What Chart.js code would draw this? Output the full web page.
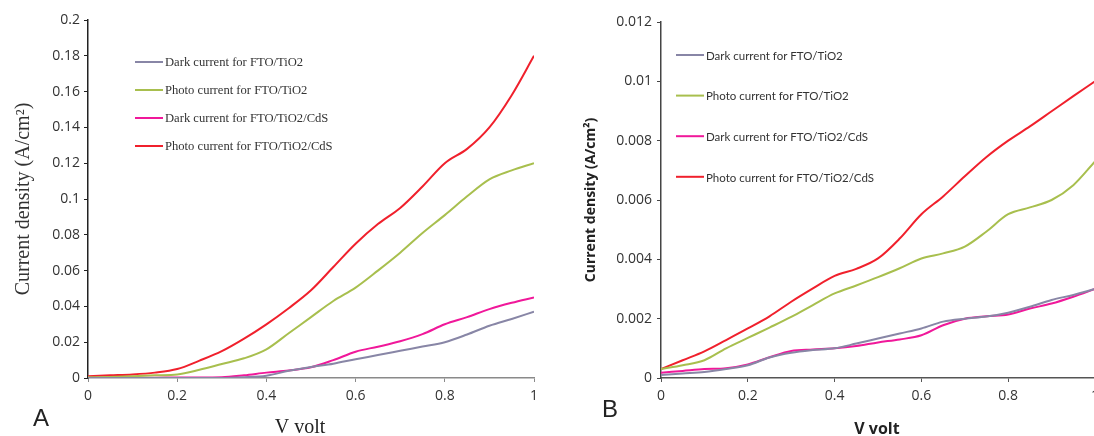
<!DOCTYPE html>
<html>
<head>
<meta charset="utf-8">
<script src="https://cdn.jsdelivr.net/npm/chart.js@4"></script>
<style>
  html, body { margin: 0; padding: 0; background: #fff; overflow: hidden; }
  body { width: 1094px; height: 436px; position: relative; }
  .panel { position: absolute; top: 0; width: 560px; height: 436px; }
  #panelA { left: 0; }
  #panelB { left: 560px; }
</style>
</head>
<body>
<div class="panel" id="panelA"><canvas id="chartA"></canvas></div>
<div class="panel" id="panelB"><canvas id="chartB"></canvas></div>
<script>
// series labels (same in both panels)
const seriesNames = [
    "Dark current for FTO/TiO2",
    "Photo current for FTO/TiO2",
    "Dark current for FTO/TiO2/CdS",
    "Photo current for FTO/TiO2/CdS"
];
const seriesColors = ["#8886a6", "#a8bf4e", "#f0189a", "#f0202c"];

// voltage (x) samples
const volts = [0, 0.05, 0.1, 0.15, 0.2, 0.25, 0.3, 0.35, 0.4, 0.45, 0.5,
               0.55, 0.6, 0.65, 0.7, 0.75, 0.8, 0.85, 0.9, 0.95, 1];

// panel A current densities (A/cm2)
const darkTiO2_A = [0, 0, 0, 0, 0, 0, 0, 0.0004, 0.0013, 0.004, 0.0062,
                    0.008, 0.0105, 0.0128, 0.0152, 0.0176, 0.020, 0.0243, 0.0292, 0.033, 0.037];
const photoTiO2_A = [0.0004, 0.0006, 0.001, 0.0015, 0.002, 0.0046, 0.0078, 0.011, 0.016, 0.025, 0.034,
                     0.043, 0.0505, 0.060, 0.070, 0.081, 0.091, 0.1015, 0.111, 0.116, 0.120];
const darkCdS_A = [0.0002, 0.0002, 0.0002, 0.0002, 0.0003, 0.0003, 0.0004, 0.0015, 0.003, 0.0042, 0.006,
                   0.010, 0.0147, 0.0175, 0.0205, 0.0245, 0.030, 0.034, 0.0385, 0.042, 0.045];
const photoCdS_A = [0.001, 0.0015, 0.002, 0.003, 0.005, 0.0097, 0.015, 0.022, 0.030, 0.039, 0.049,
                    0.062, 0.075, 0.086, 0.095, 0.107, 0.120, 0.128, 0.140, 0.158, 0.180];

// panel B current densities (A/cm2)
const darkTiO2_B = [0.0001, 0.00015, 0.0002, 0.0003, 0.00043, 0.00069, 0.00085, 0.00094, 0.001, 0.00116, 0.00133,
                    0.0015, 0.00167, 0.0019, 0.002, 0.00207, 0.0022, 0.0024, 0.00263, 0.0028, 0.003];
const photoTiO2_B = [0.0003, 0.00043, 0.0006, 0.001, 0.00135, 0.0017, 0.00206, 0.00246, 0.00285, 0.00312, 0.0034,
                     0.0037, 0.00403, 0.0042, 0.00443, 0.00494, 0.00552, 0.00575, 0.006, 0.0065, 0.0073];
const darkCdS_B = [0.00018, 0.00024, 0.0003, 0.00033, 0.00046, 0.0007, 0.00091, 0.00096, 0.001, 0.00108, 0.0012,
                   0.0013, 0.00144, 0.00178, 0.002, 0.00208, 0.00214, 0.00234, 0.00251, 0.00274, 0.003];
const photoCdS_B = [0.0003, 0.0006, 0.0009, 0.00128, 0.00167, 0.00208, 0.00257, 0.00302, 0.00344, 0.00368, 0.00403,
                    0.0047, 0.00552, 0.00612, 0.0068, 0.00745, 0.008, 0.00848, 0.00899, 0.0095, 0.010];

// tick labels
const xTickLabels = ["0", "0.2", "0.4", "0.6", "0.8", "1"];
const yTickLabelsA = ["0", "0.02", "0.04", "0.06", "0.08", "0.1", "0.12", "0.14", "0.16", "0.18", "0.2"];
const yTickLabelsB = ["0", "0.002", "0.004", "0.006", "0.008", "0.01", "0.012"];

function makeDatasets(seriesList) {
    return seriesList.map(function (vals, i) {
        return {
            label: seriesNames[i],
            data: volts.map(function (v, k) { return { x: v, y: vals[k] }; }),
            borderColor: seriesColors[i],
            borderWidth: 2,
            pointRadius: 0,
            tension: 0.35,
            cubicInterpolationMode: "monotone",
            fill: false
        };
    });
}

// draws the legend inside the plot, plus the panel letter and x title
const panelDecor = {
    id: "panelDecor",
    afterDraw: function (chart, args, opts) {
        const ctx = chart.ctx;
        ctx.save();
        chart.data.datasets.forEach(function (ds, i) {
            const y = opts.legendY + i * opts.legendGap;
            ctx.strokeStyle = ds.borderColor;
            ctx.lineWidth = 2;
            ctx.beginPath();
            ctx.moveTo(opts.legendX, y);
            ctx.lineTo(opts.legendX + 28, y);
            ctx.stroke();
            ctx.fillStyle = "#333";
            ctx.font = opts.legendFont;
            ctx.textBaseline = "middle";
            ctx.textAlign = "left";
            ctx.fillText(ds.label, opts.legendX + 30, y + 1);
        });
        ctx.fillStyle = "#222";
        ctx.font = opts.xTitleFont;
        ctx.textAlign = "center";
        ctx.textBaseline = "alphabetic";
        ctx.fillText(opts.xTitle, opts.xTitleX, opts.xTitleY);
        ctx.font = "24px 'Liberation Sans', Arial, sans-serif";
        ctx.textAlign = "left";
        ctx.fillText(opts.letter, opts.letterX, opts.letterY);
        ctx.restore();
    }
};

function makeChart(canvasId, seriesList, cfg) {
    const ctx = document.getElementById(canvasId).getContext("2d");
    return new Chart(ctx, {
        type: "line",
        data: { datasets: makeDatasets(seriesList) },
        options: {
            responsive: false,
            animation: false,
            layout: { padding: cfg.padding },
            plugins: {
                legend: { display: false },
                tooltip: { enabled: false },
                panelDecor: cfg.decor
            },
            scales: {
                x: {
                    type: "linear",
                    min: 0, max: 1,
                    ticks: {
                        stepSize: 0.2,
                        padding: 6,
                        color: "#333",
                        font: { family: "'Open Sans', sans-serif", size: 14 },
                        callback: function (v, i) { return xTickLabels[i]; }
                    },
                    grid: { drawOnChartArea: false, drawTicks: true, tickLength: 4, color: cfg.xAxisColor },
                    border: { display: true, color: cfg.xAxisColor, width: 1.5 },
                    afterFit: function (scale) { scale.height = 58; }
                },
                y: {
                    min: 0, max: cfg.yMax,
                    ticks: {
                        stepSize: cfg.yStep,
                        padding: cfg.yTickPad,
                        color: "#333",
                        font: { family: "'Open Sans', sans-serif", size: 14 },
                        callback: function (v, i) { return cfg.yLabels[i]; }
                    },
                    title: cfg.yTitle,
                    grid: { drawOnChartArea: false, drawTicks: true, tickLength: 4, color: cfg.yAxisColor },
                    border: { display: true, color: cfg.yAxisColor, width: 1.5 },
                    afterFit: function (scale) { scale.width = cfg.yWidth; }
                }
            }
        },
        plugins: [panelDecor]
    });
}

function sizeCanvas(id) {
    const c = document.getElementById(id);
    c.width = 560; c.height = 436;
    c.style.width = "560px"; c.style.height = "436px";
}
sizeCanvas("chartA");
sizeCanvas("chartB");

makeChart("chartA", [darkTiO2_A, photoTiO2_A, darkCdS_A, photoCdS_A], {
    padding: { left: 0, right: 26, top: 20, bottom: 0 },
    yMax: 0.2, yStep: 0.02, yLabels: yTickLabelsA, yWidth: 88, yTickPad: 4,
    xAxisColor: "#8a8a8a", yAxisColor: "#222",
    yTitle: {
        display: true, text: "Current density (A/cm²)", color: "#333",
        font: { family: "'Liberation Serif', 'Times New Roman', serif", size: 20 },
        padding: { top: 12, bottom: 0 }
    },
    decor: {
        legendX: 135, legendY: 62, legendGap: 28,
        legendFont: "12.6px 'Liberation Serif', 'Times New Roman', serif",
        xTitle: "V volt", xTitleFont: "20px 'Liberation Serif', 'Times New Roman', serif",
        xTitleX: 300, xTitleY: 433,
        letter: "A", letterX: 33, letterY: 426
    }
});

makeChart("chartB", [darkTiO2_B, photoTiO2_B, darkCdS_B, photoCdS_B], {
    padding: { left: 0, right: 25, top: 22, bottom: 0 },
    yMax: 0.012, yStep: 0.002, yLabels: yTickLabelsB, yWidth: 101, yTickPad: 5,
    xAxisColor: "#555", yAxisColor: "#444",
    yTitle: {
        display: true, text: "Current density (A/cm²)", color: "#222",
        font: { family: "'Open Sans', sans-serif", size: 14, weight: "bold" },
        padding: { top: 23, bottom: 0 }
    },
    decor: {
        legendX: 116, legendY: 55, legendGap: 40.6,
        legendFont: "11.5px Lato, 'Open Sans', sans-serif",
        xTitle: "V volt", xTitleFont: "bold 16px 'Open Sans', sans-serif",
        xTitleX: 317, xTitleY: 434,
        letter: "B", letterX: 42, letterY: 417
    }
});
</script>
</body>
</html>
